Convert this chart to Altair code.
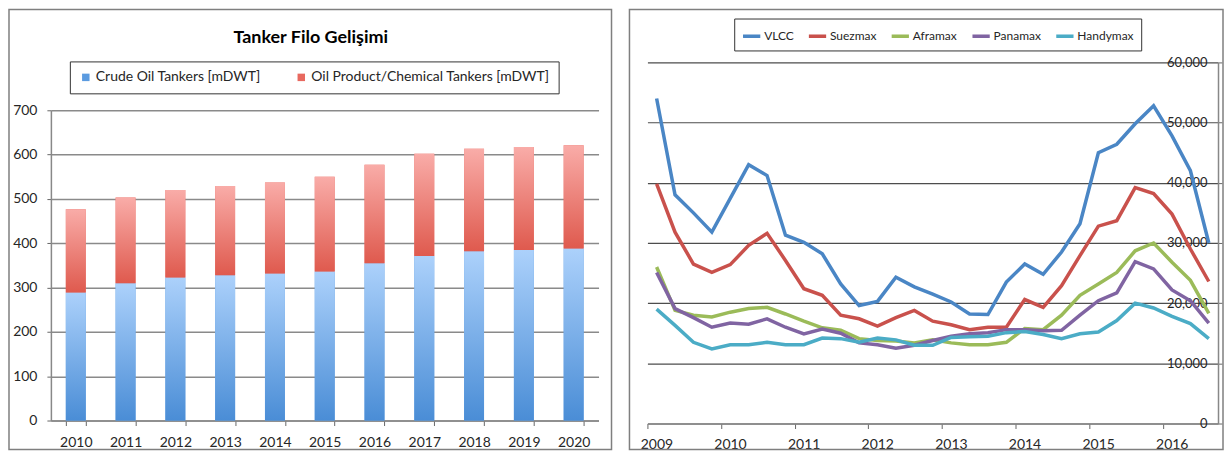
import altair as alt
import pandas as pd

FONT = "Lato"
TEXT = "#262626"

# ---------------- left panel data ----------------
years = ["2010", "2011", "2012", "2013", "2014", "2015", "2016", "2017", "2018", "2019", "2020"]
crude = [289, 310, 323, 328, 332, 336, 355, 371, 382, 385, 388]
product = [188, 193, 197, 201, 205, 214, 222, 231, 231, 232, 233]
crude_label = "Crude Oil Tankers [mDWT]"
product_label = "Oil Product/Chemical Tankers [mDWT]"

# ---------------- right panel data ----------------
series_names = ["VLCC", "Suezmax", "Aframax", "Panamax", "Handymax"]
series_colors = ["#4a86c5", "#c9514c", "#9bbb59", "#8064a2", "#4bacc6"]
quarters = [f"{y}-Q{q}" for y in range(2009, 2017) for q in range(1, 5)][:31]
vlcc = [54000, 38000, 35000, 31800, 37400, 43000, 41200, 31300, 30100, 28200, 23200,
        19600, 20300, 24300, 22700, 21500, 20200, 18200, 18100, 23500, 26500, 24800,
        28500, 33200, 45000, 46400, 49800, 52800, 47800, 42000, 30000]
suezmax = [39800, 31800, 26500, 25100, 26400, 29600, 31600, 27100, 22400, 21300, 18000,
           17400, 16200, 17600, 18800, 17000, 16400, 15600, 16000, 16000, 20600, 19300,
           22900, 27900, 32800, 33700, 39200, 38200, 34800, 29000, 23600]
aframax = [26000, 18800, 18000, 17700, 18500, 19100, 19300, 18200, 17000, 15900, 15500,
           14100, 13800, 13700, 13400, 13900, 13400, 13100, 13100, 13500, 15800, 15600,
           18000, 21300, 23200, 25100, 28700, 30000, 26800, 23800, 18300]
panamax = [25100, 19100, 17600, 16000, 16700, 16500, 17400, 16000, 14900, 15700, 15000,
           13400, 13100, 12500, 13000, 13800, 14500, 14900, 15100, 15600, 15600, 15400,
           15500, 18000, 20400, 21700, 26900, 25700, 22200, 20400, 16700]
handymax = [19000, 16300, 13500, 12400, 13100, 13100, 13500, 13100, 13100, 14200, 14100,
            13500, 14200, 13900, 13000, 13000, 14300, 14400, 14500, 15100, 15300, 14800,
            14100, 14900, 15200, 17100, 20000, 19200, 17800, 16600, 14100]
series_values = [vlcc, suezmax, aframax, panamax, handymax]

# ---------------- tables ----------------
wide = pd.DataFrame({"year": years, "crude": crude, "product": product})
wide["total"] = wide["crude"] + wide["product"]
long = pd.concat([
    pd.DataFrame({"year": years, "series": crude_label, "value": crude}),
    pd.DataFrame({"year": years, "series": product_label, "value": product}),
])

rows = []
for name, vals in zip(series_names, series_values):
    for q, v in zip(quarters, vals):
        t = int(q[:4]) + (int(q[-1]) - 1) * 0.25 + 0.125
        rows.append({"series": name, "quarter": q, "t": t, "v": v})
lines_df = pd.DataFrame(rows)

# ---------------- left chart ----------------
LW, LH = 549, 359          # group; the value range starts 48px below its top

blue_grad = alt.Gradient(gradient="linear",
                         stops=[alt.GradientStop(color="#acd1fb", offset=0),
                                alt.GradientStop(color="#4a8dd6", offset=1)],
                         x1=0, x2=0, y1=0, y2=1)
red_grad = alt.Gradient(gradient="linear",
                        stops=[alt.GradientStop(color="#f9aca8", offset=0),
                               alt.GradientStop(color="#df5a4e", offset=1)],
                        x1=0, x2=0, y1=0, y2=1)

xband = alt.X("year:N",
              scale=alt.Scale(paddingInner=0.6, paddingOuter=0.3),
              axis=alt.Axis(title=None, labelAngle=0, tickBand="extent", tickSize=5,
                            labelPadding=10, labelFontSize=14, domainColor="#888",
                            tickColor="#666", domainWidth=1.5))

frame_left = alt.Chart(alt.Data(values=[{}])).mark_rect(
    fillOpacity=0, stroke="#7f7f7f", strokeWidth=1.5
).encode(x=alt.value(-42), x2=alt.value(562), y=alt.value(-53), y2=alt.value(388))

base = alt.Chart(long).mark_bar().encode(
    x=xband,
    y=alt.Y("value:Q", stack="zero",
            scale=alt.Scale(domain=[0, 700], nice=False, range=[LH, 48]),
            axis=alt.Axis(title=None, values=list(range(0, 701, 100)), grid=True,
                          gridColor="#8a8a8a", gridWidth=1.5, tickSize=4,
                          labelPadding=10, labelFontSize=14, domainColor="#888",
                          tickColor="#666", domainWidth=1.5)),
    color=alt.Color("series:N",
                    scale=alt.Scale(domain=[crude_label, product_label],
                                    range=["#5b9be0", "#e8695f"]),
                    legend=alt.Legend(title=None, orient="none", legendX=19, legendY=-1,
                                      direction="horizontal", strokeColor="#333",
                                      fillColor="white", padding=9, columnPadding=33,
                                      symbolType="square", symbolSize=56,
                                      labelFont=FONT, labelFontSize=14, labelColor=TEXT,
                                      labelOffset=3, labelLimit=400)),
    order=alt.Order("series:N"),
)

crude_bars = alt.Chart(wide).mark_bar(color=blue_grad).encode(
    x=alt.X("year:N"),
    y=alt.Y("crude:Q"),
)
product_bars = alt.Chart(wide).mark_bar(color=red_grad).encode(
    x=alt.X("year:N"),
    y=alt.Y("total:Q"),
    y2=alt.Y2("crude:Q"),
)

left = alt.layer(frame_left, base, crude_bars, product_bars).properties(
    width=LW, height=LH,
    title=alt.TitleParams("Tanker Filo Gelişimi", font=FONT, fontSize=18,
                          fontWeight="bold", color="black", anchor="middle",
                          frame="group", dx=-14, offset=-47, baseline="middle"),
)

# ---------------- right chart ----------------
RW, RH = 572, 362

frame_right = alt.Chart(alt.Data(values=[{}])).mark_rect(
    fillOpacity=0, stroke="#7f7f7f", strokeWidth=1.5
).encode(x=alt.value(-18), x2=alt.value(577), y=alt.value(-53), y2=alt.value(388))

lines = alt.Chart(lines_df).mark_line(strokeWidth=3.5).encode(
    x=alt.X("t:Q", scale=alt.Scale(domain=[2009, 2016.75], nice=False, zero=False),
            axis=alt.Axis(title=None, values=list(range(2009, 2017)), format="d",
                          grid=False, tickSize=5, labelPadding=9, labelOffset=9,
                          labelFlush=False, labelFontSize=14, domainColor="#888",
                          tickColor="#666", domainWidth=1.5)),
    y=alt.Y("v:Q", scale=alt.Scale(domain=[0, 60000], nice=False),
            axis=alt.Axis(title=None, orient="right", values=list(range(0, 60001, 10000)),
                          labelExpr="format(datum.value, ',')",
                          grid=True, gridColor="#4d4d4d", gridWidth=1.2,
                          tickSize=4, labelAlign="right", labelPadding=-15,
                          labelOverlap=False, labelBound=False, labelFlush=False,
                          labelFontSize=13, domainColor="#888", tickColor="#666",
                          domainWidth=1.5)),
    color=alt.Color("series:N",
                    scale=alt.Scale(domain=series_names, range=series_colors),
                    legend=alt.Legend(title=None, orient="none", legendX=87, legendY=-44,
                                      direction="horizontal", strokeColor="#333",
                                      fillColor="white", padding=7, columnPadding=7,
                                      symbolType="stroke", symbolSize=300,
                                      symbolStrokeWidth=3.5, labelFont=FONT,
                                      labelFontSize=12, labelColor=TEXT, labelOffset=2,
                                      labelLimit=300)),
    detail="series:N",
)

right = alt.layer(frame_right, lines).properties(width=RW, height=RH)

chart = alt.hconcat(left, right, spacing=16).resolve_scale(
    color="independent"
).properties(padding=0).configure_view(
    strokeWidth=0
).configure_axis(
    labelFont=FONT, labelColor=TEXT
)

chart.save("out.html", embed_options={"renderer": "svg", "actions": False})
